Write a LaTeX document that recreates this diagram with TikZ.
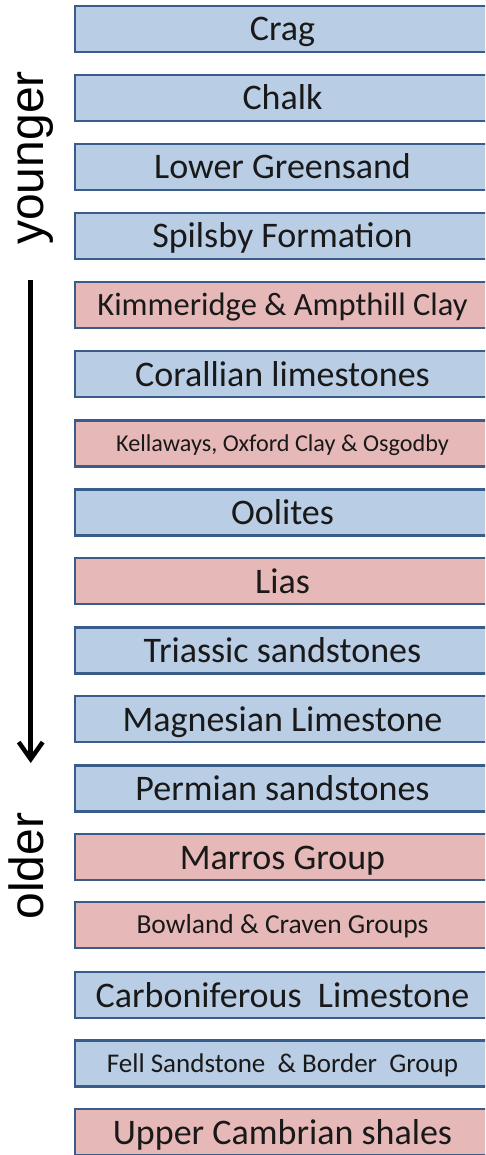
\documentclass[tikz,border=0pt]{standalone}
\usepackage{fontspec}
\setmainfont{Carlito}
\newfontfamily\arialfont{Liberation Sans}
\usetikzlibrary{arrows.meta}
\definecolor{bluefill}{HTML}{B9CDE5}
\definecolor{pinkfill}{HTML}{E6B9B8}
\definecolor{edgeblue}{HTML}{385D8A}
\newcommand{\stratlayer}[2]{%
  \fill[#2] (75,#1-23) rectangle (520,#1+23);
  \draw[edgeline] (520,#1-23) -- (75,#1-23) -- (75,#1+23) -- (520,#1+23);}
\begin{document}
\begin{tikzpicture}[x=1pt,y=-1pt,
  edgeline/.style={draw=edgeblue,line width=2.5pt,line join=miter},
  txt/.style={inner sep=0pt,text height=23pt,text depth=0pt,font=\fontsize{36}{40}\selectfont,text=black!90},
  side/.style={font=\arialfont\fontsize{48}{52}\selectfont,rotate=90,anchor=base,inner sep=0pt}]
\useasboundingbox (0,0) rectangle (485,1155);
\clip (0,0) rectangle (485,1155);
\fill[white] (0,0) rectangle (485,1155);
\def\px{282.5}
\stratlayer{29}{bluefill}       \node[txt] (l1) at (\px,29.5) {Crag};
\stratlayer{98}{bluefill}       \node[txt] (l2) at (\px,98.5) {Chalk};
\stratlayer{167}{bluefill}      \node[txt] (l3) at (\px,167.5) {Lower Greensand};
\stratlayer{236}{bluefill}      \node[txt] (l4) at (\px,236.5) {Spilsby Formation};
\stratlayer{305}{pinkfill}      \node[txt,font=\fontsize{32.5}{36}\selectfont,text height=21pt] (l5) at (\px,305) {Kimmeridge \& Ampthill Clay};
\stratlayer{374}{bluefill}      \node[txt] (l6) at (\px,374.5) {Corallian limestones};
\stratlayer{443.5}{pinkfill}    \node[txt,font=\fontsize{24.2}{28}\selectfont,text height=15.6pt] (l7) at (\px,443.5) {Kellaways, Oxford Clay \& Osgodby};
\stratlayer{512.5}{bluefill}    \node[txt] (l8) at (\px,513) {Oolites};
\stratlayer{581}{pinkfill}      \node[txt] (l9) at (\px,581.5) {Lias};
\stratlayer{650.5}{bluefill}    \node[txt] (l10) at (\px,651) {Triassic sandstones};
\stratlayer{719}{bluefill}      \node[txt] (l11) at (\px,719.5) {Magnesian Limestone};
\stratlayer{788.5}{bluefill}    \node[txt] (l12) at (\px,789) {Permian sandstones};
\stratlayer{857}{pinkfill}      \node[txt] (l13) at (\px,857.5) {Marros Group};
\stratlayer{925}{pinkfill}      \node[txt,font=\fontsize{27.5}{30}\selectfont,text height=17.7pt] (l14) at (\px,925) {Bowland \& Craven Groups};
\stratlayer{995}{bluefill}      \node[txt] (l15) at (\px,995.5) {Carboniferous~ Limestone};
\stratlayer{1063.5}{bluefill}   \node[txt,font=\fontsize{27}{30}\selectfont,text height=17.4pt] (l16) at (\px,1063.5) {Fell Sandstone~ \& Border~ Group};
\stratlayer{1132}{pinkfill}     \node[txt] (l17) at (\px,1132.5) {Upper Cambrian shales};
\node[side] (young) at (43,158) {younger};
\node[side] (old) at (43,866) {older};
\coordinate (astart) at (30.7,280);
\coordinate (aend) at (30.7,763);
\draw[line width=4.5pt,-{Straight Barb[length=17pt,width=24pt]}] (astart) -- (aend);
\end{tikzpicture}
\end{document}
